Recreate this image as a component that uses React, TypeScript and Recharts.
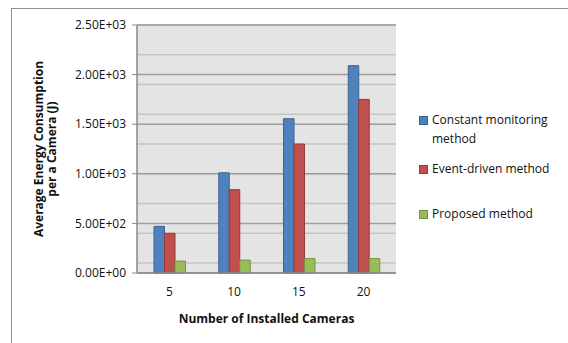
import React from 'react'
import {
  BarChart,
  Bar,
  XAxis,
  YAxis,
  CartesianGrid,
} from 'recharts'

const cameraCounts = ['5', '10', '15', '20']
const constantMonitoring = [470, 1010, 1555, 2090]
const eventDriven = [400, 840, 1300, 1750]
const proposed = [120, 130, 145, 145]

const majorTicks = [0, 500, 1000, 1500, 2000, 2500]
const minorTicks = Array.from({ length: 26 }, (_, i) => i * 100)

const series = [
  { key: 'constant', name: 'Constant monitoring method', fill: '#4F81BD', stroke: '#3A6496' },
  { key: 'event', name: 'Event-driven method', fill: '#C0504D', stroke: '#943B39' },
  { key: 'proposed', name: 'Proposed method', fill: '#9BBB59', stroke: '#76923F' },
]

const data = cameraCounts.map((c, i) => ({
  cameras: c,
  constant: constantMonitoring[i],
  event: eventDriven[i],
  proposed: proposed[i],
}))

const FONT = '"Open Sans", "Liberation Sans", sans-serif'

// Excel-style scientific notation: 2.50E+03
function sci(v: number) {
  if (v === 0) return '0.00E+00'
  const [m, e] = v.toExponential(2).split('e')
  const exp = parseInt(e, 10)
  const sign = exp < 0 ? '-' : '+'
  return `${m}E${sign}${String(Math.abs(exp)).padStart(2, '0')}`
}

function YTitle(props: any) {
  const { x, y, height } = props.viewBox
  const cy = y + height / 2
  const cx = x + 28
  return (
    <text
      transform={`rotate(-90, ${cx}, ${cy})`}
      x={cx}
      y={cy}
      textAnchor="middle"
      fontFamily={FONT}
      fontSize={12}
      fontWeight="bold"
      fill="#111"
    >
      <tspan x={cx} dy="0.35em">Average Energy Consumption</tspan>
      <tspan x={cx} dy="1.05em">per a Camera (J)</tspan>
    </text>
  )
}

function LegendBox() {
  const gaps = [0, 11, 26]
  return (
    <div
      style={{
        position: 'absolute',
        left: 419,
        top: 110,
        width: 145,
        fontFamily: FONT,
        fontSize: 12,
        color: '#111',
      }}
    >
      {series.map((s, i) => (
        <div
          key={s.key}
          style={{ display: 'flex', alignItems: 'flex-start', marginTop: gaps[i], lineHeight: '19px' }}
        >
          <span
            style={{
              width: 7,
              height: 7,
              marginTop: 6,
              marginRight: 4,
              background: s.fill,
              border: `1px solid ${s.stroke}`,
              flexShrink: 0,
            }}
          />
          <span style={{ maxWidth: 128 }}>{s.name}</span>
        </div>
      ))}
    </div>
  )
}

export default function App() {
  return (
    <div style={{ position: 'absolute', left: 0, top: 0, width: 568, height: 343, background: '#fff' }}>
      <div
        style={{
          position: 'absolute',
          left: 11,
          top: 8,
          right: 0,
          bottom: 0,
          borderLeft: '1.5px solid #8f8f8f',
          borderTop: '1.5px solid #8f8f8f',
        }}
      />
      <BarChart
        width={568}
        height={343}
        data={data}
        margin={{ top: 25, right: 172, left: 11, bottom: 18 }}
        barGap={0}
        barSize={10.5}
        style={{ position: 'absolute', left: 0, top: 0 }}
      >
        {/* light minor lines every 100 J, then the darker major lines on top */}
        <CartesianGrid
          vertical={false}
          fill="#E4E4E4"
          stroke="#C4C4C4"
          strokeWidth={1.5}
          horizontalValues={minorTicks}
        />
        <CartesianGrid vertical={false} stroke="#9E9E9E" strokeWidth={1.5} />
        <XAxis
          dataKey="cameras"
          height={52}
          tickLine={false}
          tickSize={0}
          tickMargin={14}
          axisLine={{ stroke: '#8a8a8a', strokeWidth: 1.5 }}
          tick={{ fontFamily: FONT, fontSize: 12, fill: '#111' }}
          label={{
            value: 'Number of Installed Cameras',
            position: 'insideBottom',
            offset: 2,
            fontFamily: FONT,
            fontSize: 12,
            fontWeight: 'bold',
            fill: '#111',
          }}
        />
        <YAxis
          width={126}
          domain={[0, 2500]}
          ticks={majorTicks}
          tickFormatter={sci}
          tickSize={5}
          tickMargin={6}
          tickLine={{ stroke: '#8a8a8a' }}
          axisLine={{ stroke: '#8a8a8a', strokeWidth: 1.5 }}
          tick={{ fontFamily: FONT, fontSize: 12, fill: '#111' }}
          label={{ content: YTitle }}
        />
        {series.map((s) => (
          <Bar
            key={s.key}
            dataKey={s.key}
            name={s.name}
            fill={s.fill}
            stroke={s.stroke}
            strokeWidth={1}
            isAnimationActive={false}
          />
        ))}
      </BarChart>
      <LegendBox />
    </div>
  )
}
